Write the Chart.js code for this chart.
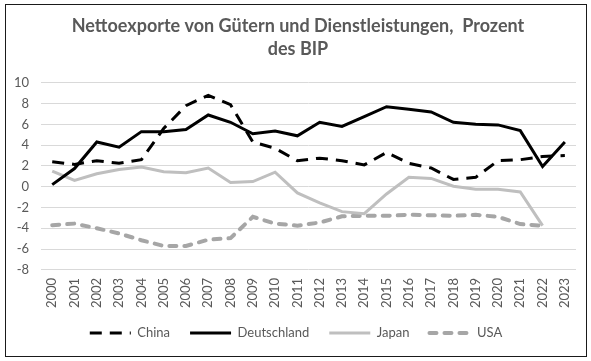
<!DOCTYPE html>
<html>
<head>
<meta charset="utf-8">
<script src="https://cdn.jsdelivr.net/npm/chart.js@4.4.0/dist/chart.umd.min.js"></script>
<style>
  html, body { margin: 0; padding: 0; background: #fff; }
  #wrap { position: relative; width: 591px; height: 361px; }
  #frame { position: absolute; left: 5px; top: 4px; width: 580px; height: 351px; border: 1.5px solid #1a1a1a; pointer-events: none; }
</style>
</head>
<body>
<div id="wrap">
  <canvas id="c" width="591" height="361"></canvas>
  <div id="frame"></div>
</div>
<script>
const years = ['2000','2001','2002','2003','2004','2005','2006','2007','2008','2009','2010','2011','2012','2013','2014','2015','2016','2017','2018','2019','2020','2021','2022','2023'];
const china = [2.4, 2.15, 2.5, 2.25, 2.6, 5.6, 7.8, 8.8, 7.9, 4.3, 3.7, 2.5, 2.75, 2.5, 2.1, 3.3, 2.25, 1.8, 0.7, 0.9, 2.5, 2.6, 2.9, 3.0];
const deutschland = [0.2, 1.75, 4.3, 3.8, 5.3, 5.3, 5.5, 6.9, 6.2, 5.1, 5.35, 4.9, 6.2, 5.8, 6.75, 7.7, 7.45, 7.2, 6.2, 6.0, 5.95, 5.4, 1.95, 4.3];
const japan = [1.5, 0.6, 1.25, 1.65, 1.9, 1.45, 1.35, 1.8, 0.4, 0.5, 1.4, -0.6, -1.55, -2.4, -2.6, -0.7, 0.9, 0.8, 0.05, -0.25, -0.25, -0.5, -3.75, null];
const usa = [-3.7, -3.55, -4.0, -4.5, -5.15, -5.7, -5.7, -5.1, -4.95, -2.9, -3.55, -3.75, -3.45, -2.85, -2.8, -2.8, -2.7, -2.75, -2.8, -2.7, -2.9, -3.6, -3.75, null];
const titleLines = ['Nettoexporte von Gütern und Dienstleistungen,  Prozent', 'des BIP'];

const FONT = 'Lato, "Open Sans", sans-serif';
const TXT = '#595959';

// nudge the legend box after layout (item spacing kept at 20px)
const legendNudge = {
  id: 'legendNudge',
  afterLayout(chart) {
    const lg = chart.legend;
    if (!lg) return;
    lg.top -= 9.5; lg.bottom -= 9.5;
    lg.left += 7; lg.right += 7;
  }
};

new Chart(document.getElementById('c'), {
  type: 'line',
  data: {
    labels: years,
    datasets: [
      { label: 'China', data: china, borderColor: '#000000', backgroundColor: '#000000', borderWidth: 3, borderDash: [12, 8], pointRadius: 0, tension: 0 },
      { label: 'Deutschland', data: deutschland, borderColor: '#000000', backgroundColor: '#000000', borderWidth: 3, pointRadius: 0, tension: 0 },
      { label: 'Japan', data: japan, borderColor: '#bfbfbf', backgroundColor: '#bfbfbf', borderWidth: 3, pointRadius: 0, tension: 0 },
      { label: 'USA', data: usa, borderColor: '#a6a6a6', backgroundColor: '#a6a6a6', borderWidth: 4, borderDash: [7, 8], borderCapStyle: 'round', pointRadius: 0, tension: 0 }
    ]
  },
  plugins: [legendNudge],
  options: {
    responsive: false,
    animation: false,
    layout: { padding: { left: 2, right: 15, top: 8, bottom: 2 } },
    plugins: {
      title: {
        display: true,
        text: titleLines.map(t => '\u2002\u2002' + t),
        color: TXT,
        font: { family: FONT, size: 18, weight: 'bold', lineHeight: 1.3 },
        padding: { top: 6, bottom: 22 }
      },
      legend: {
        position: 'bottom',
        labels: {
          usePointStyle: true,
          pointStyle: 'line',
          pointStyleWidth: 41,
          color: TXT,
          font: { family: FONT, size: 13 },
          padding: 20,
          generateLabels(chart) {
            const items = Chart.defaults.plugins.legend.labels.generateLabels(chart);
            items.forEach(it => {
              const ds = chart.data.datasets[it.datasetIndex];
              it.lineDash = ds.borderDash || [];
              it.lineWidth = ds.borderWidth;
              it.lineCap = ds.borderCapStyle || 'butt';
              it.pointStyle = 'line';
            });
            return items;
          }
        }
      },
      tooltip: { enabled: false }
    },
    scales: {
      x: {
        offset: true,
        grid: { display: false, drawTicks: false },
        border: { display: false },
        ticks: { color: TXT, font: { family: FONT, size: 13 }, minRotation: 90, maxRotation: 90, autoSkip: false, padding: 8 }
      },
      y: {
        min: -8,
        max: 10,
        grid: { color: '#d9d9d9', lineWidth: 1, drawTicks: false },
        border: { display: false },
        ticks: { stepSize: 2, color: TXT, font: { family: FONT, size: 13 }, padding: 12 }
      }
    }
  }
});
</script>
</body>
</html>
